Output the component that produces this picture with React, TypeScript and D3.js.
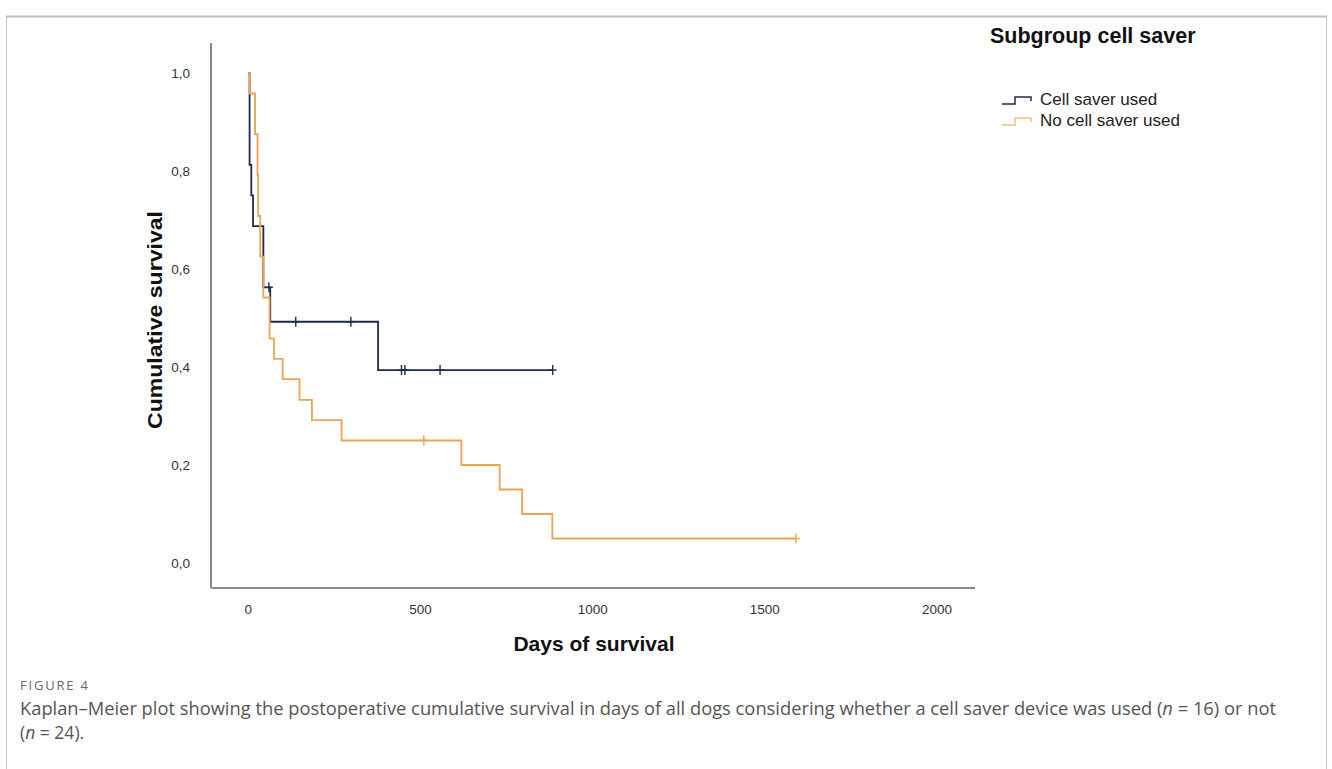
import * as d3 from "d3";

// Kaplan–Meier steps (days, cumulative survival)
const cellSaverTimes = [0, 4, 9, 14, 44, 64, 377, 884];
const cellSaverSurv = [1, 0.8125, 0.75, 0.6875, 0.5625, 0.4922, 0.3937, 0.3937];
const cellSaverCensored = [60, 138, 298, 445, 455, 557, 884];

const noCellSaverTimes = [0, 4, 20, 27, 29, 35, 44, 62, 75, 100, 149, 185, 271, 619, 730, 795, 883, 1590];
const noCellSaverSurv = [1, 0.958, 0.875, 0.792, 0.708, 0.625, 0.5417, 0.458, 0.4167, 0.375, 0.333, 0.2917, 0.25, 0.2, 0.15, 0.1, 0.05, 0.05];
const noCellSaverCensored = [510, 1590];

const xTicks = [0, 500, 1000, 1500, 2000];
const yTicks = [0, 0.2, 0.4, 0.6, 0.8, 1.0];

const seriesNames = ["Cell saver used", "No cell saver used"];

const W = 1332;
const H = 769;

const DARK = "#1f2b4a";
const ORANGE = "#eba550";

type Pt = { t: number; s: number };

function zip(times: number[], surv: number[]): Pt[] {
  return times.map((t, i) => ({ t, s: surv[i] }));
}

// survival value at time t for a step curve
function survAt(pts: Pt[], t: number) {
  let s = pts[0].s;
  for (const p of pts) if (p.t <= t) s = p.s;
  return s;
}

export default function App() {
  const x = d3.scaleLinear().domain([-108, 2110]).range([211, 975]);
  const y = d3.scaleLinear().domain([-0.051, 1.061]).range([588, 43]);

  const line = d3
    .line<Pt>()
    .x((d) => x(d.t))
    .y((d) => y(d.s))
    .curve(d3.curveStepAfter);

  const series = [
    { name: seriesNames[0], color: DARK, pts: zip(cellSaverTimes, cellSaverSurv), cens: cellSaverCensored },
    { name: seriesNames[1], color: ORANGE, pts: zip(noCellSaverTimes, noCellSaverSurv), cens: noCellSaverCensored },
  ];

  const fmt = (v: number) => d3.format(".1f")(v).replace(".", ",");
  const axisFont = "'Liberation Sans', Arial, sans-serif";
  const capFont = "'Open Sans', sans-serif";

  return (
    <svg width={W} height={H} style={{ position: "absolute", left: 0, top: 0, background: "#fff" }}>
      {/* figure frame */}
      <rect x={6.5} y={16.5} width={1320} height={780} fill="none" stroke="#c8c8c8" strokeWidth={1} />
      <line x1={6} x2={1327} y1={16.5} y2={16.5} stroke="#bdbdbd" strokeWidth={2} />

      {/* axes */}
      <line x1={x.range()[0]} x2={x.range()[0]} y1={y.range()[1]} y2={y.range()[0]} stroke="#8a8a8a" strokeWidth={2} />
      <line x1={x.range()[0]} x2={x.range()[1]} y1={y.range()[0]} y2={y.range()[0]} stroke="#8a8a8a" strokeWidth={2} />

      {yTicks.map((v) => (
        <text key={v} x={190} y={y(v)} dy="0.35em" textAnchor="end" fontFamily={axisFont} fontSize={13.5} fill="#333">
          {fmt(v)}
        </text>
      ))}
      {xTicks.map((v) => (
        <text key={v} x={x(v)} y={609} dy="0.35em" textAnchor="middle" fontFamily={axisFont} fontSize={13.5} fill="#333">
          {v}
        </text>
      ))}

      <text
        transform={`translate(162,320) rotate(-90)`}
        textAnchor="middle"
        fontFamily={axisFont}
        fontSize={21}
        fontWeight="bold"
        fill="#111"
        textLength={218}
        lengthAdjust="spacingAndGlyphs"
      >
        Cumulative survival
      </text>
      <text x={594} y={651} textAnchor="middle" fontFamily={axisFont} fontSize={21} fontWeight="bold" fill="#111">
        Days of survival
      </text>

      {/* survival curves */}
      {series.map((sr) => (
        <g key={sr.name}>
          <path d={line(sr.pts) ?? ""} fill="none" stroke={sr.color} strokeWidth={1.8} />
          {sr.cens.map((c, i) => {
            const cx = x(c);
            const cy = y(survAt(sr.pts, c));
            return (
              <g key={i} stroke={sr.color} strokeWidth={1.4}>
                <line x1={cx} x2={cx} y1={cy - 5} y2={cy + 5} />
                <line x1={cx - 4} x2={cx + 4} y1={cy} y2={cy} />
              </g>
            );
          })}
        </g>
      ))}

      {/* legend */}
      <text x={990} y={43} fontFamily={axisFont} fontSize={21.5} fontWeight="bold" fill="#111">
        Subgroup cell saver
      </text>
      {series.map((sr, i) => {
        const ly = 104 + i * 21;
        const col = i === 0 ? DARK : "#f2c080";
        return (
          <g key={sr.name}>
            <path
              d={`M1002,${ly} H1015 V${ly - 7} H1031 V${ly - 3}`}
              fill="none"
              stroke={col}
              strokeWidth={1.5}
            />
            <text x={1040} y={ly + 1} fontFamily={axisFont} fontSize={17} fill="#222">
              {sr.name}
            </text>
          </g>
        );
      })}

      {/* caption */}
      <text x={20} y={690} fontFamily={capFont} fontSize={13} fill="#666" textLength={68} lengthAdjust="spacing">
        FIGURE 4
      </text>
      <text x={20} y={715} fontFamily={capFont} fontSize={17.5} fill="#555" textLength={1256} lengthAdjust="spacingAndGlyphs">
        Kaplan–Meier plot showing the postoperative cumulative survival in days of all dogs considering whether a cell saver device was used (
        <tspan fontStyle="italic">n</tspan> = 16) or not
      </text>
      <text x={20} y={739} fontFamily={capFont} fontSize={17.5} fill="#555">
        (<tspan fontStyle="italic">n</tspan> = 24).
      </text>
    </svg>
  );
}
